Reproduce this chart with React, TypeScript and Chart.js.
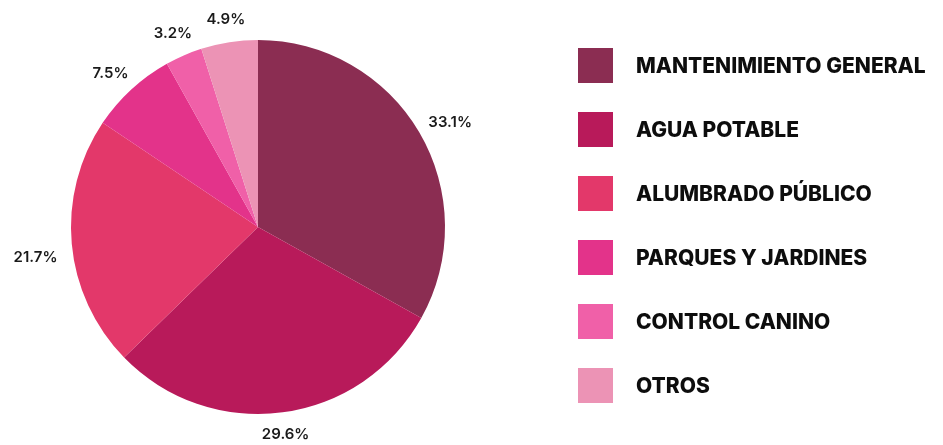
import React, { useEffect, useRef } from "react";
import { Chart, registerables } from "chart.js";

Chart.register(...registerables);

const categories = [
  "MANTENIMIENTO GENERAL",
  "AGUA POTABLE",
  "ALUMBRADO PÚBLICO",
  "PARQUES Y JARDINES",
  "CONTROL CANINO",
  "OTROS",
];
const values = [33.1, 29.6, 21.7, 7.5, 3.2, 4.9];
const colors = ["#8b2d52", "#b81a5a", "#e3386a", "#e3338a", "#f060a8", "#ec93b5"];

const pctLabelPlugin = {
  id: "pctLabels",
  afterDatasetsDraw(chart: any) {
    const ctx = chart.ctx;
    const meta = chart.getDatasetMeta(0);
    ctx.save();
    ctx.font = "600 15px Inter, 'Noto Sans', sans-serif";
    ctx.fillStyle = "#1a1a1a";
    ctx.textAlign = "center";
    ctx.textBaseline = "middle";
    meta.data.forEach((arc: any, i: number) => {
      const p = arc.getProps(["x", "y", "startAngle", "endAngle", "outerRadius"], true);
      const mid = (p.startAngle + p.endAngle) / 2;
      const text = values[i].toFixed(1) + "%";
      const hw = ctx.measureText(text).width / 2;
      const hh = 6;
      const c = Math.cos(mid);
      const s = Math.sin(mid);
      const d = p.outerRadius + 14 + Math.abs(c) * hw + Math.abs(s) * hh;
      ctx.fillText(text, p.x + c * d, p.y + s * d + 12 * Math.abs(c) - 2);
    });
    ctx.restore();
  },
};

const legendPlugin = {
  id: "customLegend",
  afterDraw(chart: any) {
    const ctx = chart.ctx;
    const ds = chart.data.datasets[0];
    ctx.save();
    ctx.font = "800 21px Inter, 'Noto Sans', sans-serif";
    ctx.textBaseline = "middle";
    ctx.textAlign = "left";
    (chart.data.labels as string[]).forEach((label, i) => {
      const y = 48 + 64 * i;
      ctx.fillStyle = ds.backgroundColor[i];
      ctx.fillRect(578, y, 35, 35);
      ctx.fillStyle = "#0d0d0d";
      ctx.fillText(label, 636, y + 18.5);
    });
    ctx.restore();
  },
};

export default function App() {
  const ref = useRef<HTMLCanvasElement | null>(null);
  useEffect(() => {
    if (!ref.current) return;
    const chart = new Chart(ref.current, {
      type: "pie",
      data: {
        labels: categories,
        datasets: [
          {
            data: values,
            backgroundColor: colors,
            borderWidth: 0,
          },
        ],
      },
      options: {
        animation: false,
        responsive: true,
        maintainAspectRatio: false,
        layout: { padding: { left: 71, top: 40, bottom: 31, right: 498 } },
        plugins: {
          legend: { display: false },
          tooltip: { enabled: false },
        },
      },
      plugins: [pctLabelPlugin, legendPlugin],
    });
    return () => chart.destroy();
  }, []);
  return (
    <div style={{ position: "fixed", left: 0, top: 0, width: 943, height: 445, background: "#ffffff" }}>
      <canvas ref={ref} />
    </div>
  );
}
